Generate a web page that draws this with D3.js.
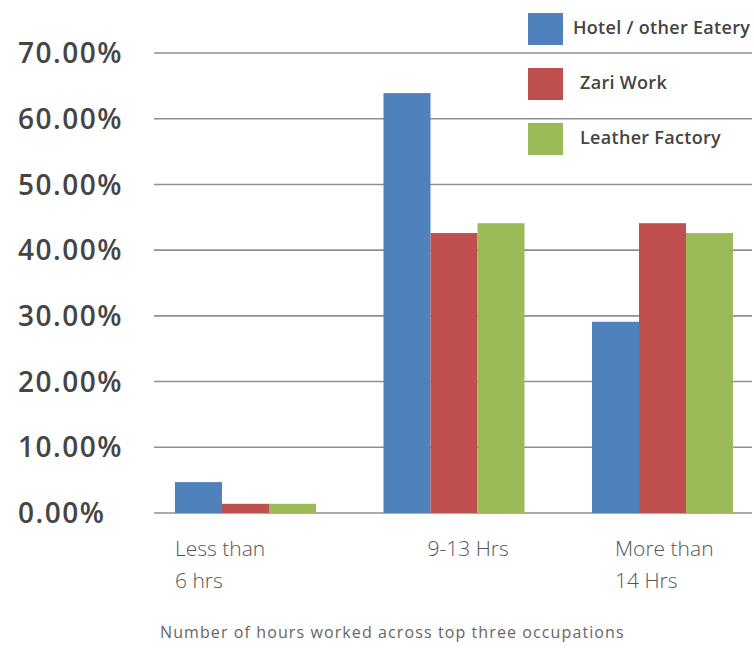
<!DOCTYPE html>
<html>
<head>
<meta charset="utf-8">
<script src="https://cdn.jsdelivr.net/npm/d3@7"></script>
<style>
  html, body { margin: 0; padding: 0; background: #fff; }
  svg { display: block; }
</style>
</head>
<body>
<svg id="chart" width="754" height="650"></svg>
<script>
// ---- data ----
const categories = ["Less than\n6 hrs", "9-13 Hrs", "More than\n14 Hrs"];
const seriesNames = ["Hotel / other Eatery", "Zari Work", "Leather Factory"];
const hotelValues = [4.7, 63.9, 29.1];
const zariValues = [1.4, 42.6, 44.1];
const leatherValues = [1.4, 44.1, 42.6];
const yTicks = [0, 10, 20, 30, 40, 50, 60, 70];
const caption = "Number of hours worked across top three occupations";

// ---- layout ----
const colors = ["#4F81BD", "#C0504D", "#9BBB59"];
const seriesValues = [hotelValues, zariValues, leatherValues];
const svg = d3.select("#chart");

const y = d3.scaleLinear().domain([0, 70]).range([513, 53]);
const x0 = d3.scaleBand().domain(categories).range([175, 733]).paddingInner(0.3237).paddingOuter(0);
const x1 = d3.scaleBand().domain(seriesNames).range([0, x0.bandwidth()]).padding(0);

// gridlines
svg.append("g").selectAll("line").data(yTicks).join("line")
  .attr("x1", 154).attr("x2", 752)
  .attr("y1", d => y(d)).attr("y2", d => y(d))
  .attr("stroke", "#8f8f8f").attr("stroke-width", 1.6);

// y labels
svg.append("g").selectAll("text").data(yTicks).join("text")
  .attr("x", 18).attr("y", d => y(d))
  .attr("dy", "0.36em")
  .attr("font-family", "'Open Sans', sans-serif")
  .attr("font-weight", 600)
  .attr("font-size", 28)
  .attr("letter-spacing", 1.5)
  .attr("fill", "#454545")
  .text(d => d3.format(".2f")(d) + "%");

// bars
const rows = [];
categories.forEach((c, i) => {
  seriesNames.forEach((s, j) => rows.push({ cat: c, ser: s, v: seriesValues[j][i], color: colors[j] }));
});
svg.append("g").selectAll("rect").data(rows).join("rect")
  .attr("x", d => x0(d.cat) + x1(d.ser))
  .attr("width", x1.bandwidth())
  .attr("y", d => y(d.v))
  .attr("height", d => y(0) - y(d.v))
  .attr("fill", d => d.color);

// x labels (left-aligned multi-line blocks)
const labelDx = [0, 44, 23];
const xl = svg.append("g").selectAll("text").data(categories).join("text")
  .attr("font-family", "'Open Sans', sans-serif")
  .attr("font-weight", 300)
  .attr("font-size", 21)
  .attr("fill", "#555");
xl.each(function(d, i) {
  const lines = d.split("\n");
  d3.select(this).selectAll("tspan").data(lines).join("tspan")
    .attr("x", x0(d) + labelDx[i])
    .attr("y", (l, k) => 556 + k * 32)
    .text(l => l);
});

// legend
const lg = svg.append("g").selectAll("g").data(seriesNames).join("g")
  .attr("transform", (d, i) => `translate(528, ${13 + i * 55})`);
lg.append("rect").attr("width", 35).attr("height", 32).attr("fill", (d, i) => colors[i]);
lg.append("text")
  .attr("x", (d, i) => i === 0 ? 45 : 52)
  .attr("y", 15).attr("dy", "0.35em")
  .attr("font-family", "'Open Sans', sans-serif")
  .attr("font-weight", 600)
  .attr("font-size", 18)
  .attr("letter-spacing", 0.3)
  .attr("fill", "#444")
  .text(d => d);

// caption
svg.append("text")
  .attr("x", 160).attr("y", 638)
  .attr("font-family", "'Open Sans', sans-serif")
  .attr("font-weight", 400)
  .attr("font-size", 16)
  .attr("letter-spacing", 1.1)
  .attr("fill", "#666")
  .text(caption);
</script>
</body>
</html>
